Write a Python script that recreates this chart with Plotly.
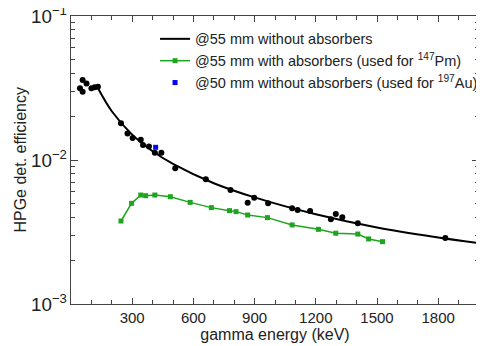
import plotly.graph_objects as go

# measured points @55 mm without absorbers
black_E = [44, 57, 57, 76, 100, 116, 132, 245, 277, 302, 342, 353, 382, 411, 443,
           511, 661, 782, 866, 898, 966, 1084, 1111, 1172, 1274, 1298, 1330, 1406, 1835]
black_eff = [0.0315, 0.0359, 0.0298, 0.0340, 0.0315, 0.0320, 0.0323, 0.0180, 0.0153,
             0.0142, 0.0138, 0.0127, 0.0124, 0.01125, 0.01125, 0.00875, 0.00735, 0.0062,
             0.00505, 0.00547, 0.0050, 0.00462, 0.0045, 0.00443, 0.00387, 0.00422,
             0.0040, 0.00363, 0.00287]

# fitted efficiency curve @55 mm without absorbers
fit_E = [130, 200, 300, 400, 500, 700, 900, 1200, 1500, 1800, 2000]
fit_eff = [0.0320, 0.0218, 0.0150, 0.0115, 0.0094, 0.0069, 0.0055, 0.0042, 0.0034,
           0.0029, 0.00265]

# @55 mm with absorbers
green_E = [245, 297, 342, 366, 411, 487, 584, 688, 777, 809, 866, 963, 1084, 1213,
           1298, 1406, 1459, 1527]
green_eff = [0.00377, 0.0050, 0.00571, 0.00565, 0.00571, 0.00556, 0.00508, 0.00467,
             0.00445, 0.00438, 0.00415, 0.00398, 0.00354, 0.0033, 0.0031, 0.00306,
             0.00283, 0.00271]

# @50 mm without absorbers
blue_E = [415]
blue_eff = [0.01225]

x_ticks = [300, 600, 900, 1200, 1500, 1800]

FONT = "Liberation Sans, Arial, sans-serif"
fig = go.Figure()
fig.add_trace(go.Scatter(x=black_E, y=black_eff, mode="markers",
                         marker=dict(color="black", size=6, symbol="circle"),
                         showlegend=False))
fig.add_trace(go.Scatter(x=fit_E, y=fit_eff, mode="lines", line_shape="spline",
                         line=dict(color="black", width=2),
                         name="@55 mm without absorbers"))
fig.add_trace(go.Scatter(x=green_E, y=green_eff, mode="lines+markers",
                         line=dict(color="#1ea51e", width=1.5),
                         marker=dict(color="#1ea51e", size=5, symbol="square"),
                         name="@55 mm with absorbers (used for <sup>147</sup>Pm)"))
fig.add_trace(go.Scatter(x=blue_E, y=blue_eff, mode="markers",
                         marker=dict(color="#0000ff", size=5, symbol="square"),
                         name="@50 mm without absorbers (used for <sup>197</sup>Au)"))

axis_common = dict(showline=True, linecolor="#444", linewidth=1.2, mirror="ticks",
                   ticks="inside", tickcolor="#444", showgrid=False, zeroline=False,
                   automargin=False,
                   tickfont=dict(size=15, color="#222", family=FONT))

fig.update_xaxes(range=[0, 2000], tickvals=x_ticks, ticklen=6,
                 minor=dict(dtick=100, ticks="inside", ticklen=4, tickcolor="#444"),
                 title=dict(text="gamma energy (keV)", font=dict(size=16, color="#222", family=FONT),
                            standoff=2),
                 **axis_common)
fig.update_yaxes(type="log", range=[-3, -1], dtick=1, exponentformat="power", ticklen=7,
                 ticklabeloverflow="allow",
                 minor=dict(dtick="D1", ticks="inside", ticklen=4, tickcolor="#444"),
                 **axis_common)

# y-axis title placed as a rotated annotation for exact position
fig.add_annotation(text="HPGe det. efficiency", xref="paper", yref="paper",
                   x=-0.126, y=0.5, xanchor="center", yanchor="middle",
                   textangle=-90, showarrow=False,
                   font=dict(size=16, color="#222", family=FONT))

# page body has an 8px margin; size the figure so it fits in the 484x346 window
fig.update_layout(
    width=476, height=338,
    margin=dict(l=63, r=1, t=8, b=42),
    plot_bgcolor="white", paper_bgcolor="white",
    font=dict(family=FONT, color="#222"),
    legend=dict(x=0.206, y=0.976, xanchor="left", yanchor="top",
                bgcolor="rgba(0,0,0,0)", font=dict(size=14.5, family=FONT, color="#222"),
                itemwidth=30, tracegroupgap=0),
)

fig.write_html("out.html")
